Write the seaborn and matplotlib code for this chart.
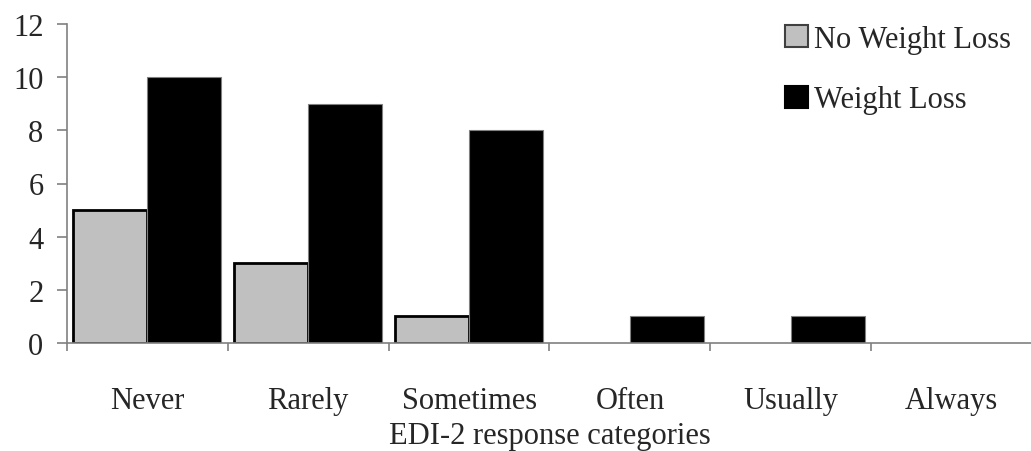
import matplotlib
matplotlib.use("Agg")
import matplotlib.pyplot as plt
import seaborn as sns
import pandas as pd
import numpy as np

categories = ["Never", "Rarely", "Sometimes", "Often", "Usually", "Always"]
no_weight_loss = [5, 3, 1, 0, 0, 0]
weight_loss = [10, 9, 8, 1, 1, 0]
series_names = ["No Weight Loss", "Weight Loss"]

df = pd.DataFrame({
    "category": categories * 2,
    "count": no_weight_loss + weight_loss,
    "group": [series_names[0]] * len(categories) + [series_names[1]] * len(categories),
})

sns.set_style("white")
plt.rcParams["font.family"] = ["Liberation Serif", "DejaVu Serif"]

FS = 22

fig = plt.figure(figsize=(10.31, 4.52), dpi=100)
ax = fig.add_axes([67 / 1031, 108 / 452, 965 / 1031, 319 / 452])

sns.barplot(data=df, x="category", y="count", hue="group", order=categories,
            hue_order=series_names, palette=["#C0C0C0", "#000000"],
            width=0.92, saturation=1, ax=ax, legend=True)

# outline styling: grey bars get a black rim, black bars a thin grey one;
# empty bars get no outline at all
n = len(categories)
for i, p in enumerate(ax.patches[:2 * n]):
    if i < n:
        p.set_edgecolor("black")
        p.set_linewidth(2.0)
    else:
        p.set_edgecolor("#808080")
        p.set_linewidth(0.8)
    if p.get_height() == 0:
        p.set_linewidth(0)

ax.set_xlim(-0.5, n - 0.5)
ax.set_ylim(0, 12)
ax.set_yticks(np.arange(0, 13, 2))

# category labels centred, tick marks on the boundaries
ax.set_xticks(np.arange(n))
ax.set_xticklabels(categories)
ax.set_xticks(np.arange(-0.5, n, 1.0), minor=True)
ax.tick_params(axis="x", which="major", bottom=True, length=0, pad=31, labelsize=FS)
ax.tick_params(axis="x", which="minor", bottom=True, length=6, width=1.2,
               color="#808080", direction="out")
ax.tick_params(axis="y", which="major", left=True, length=7, width=1.2,
               color="#808080", direction="out", pad=10, labelsize=FS)

for side in ["top", "right"]:
    ax.spines[side].set_visible(False)
for side in ["left", "bottom"]:
    ax.spines[side].set_color("#808080")
    ax.spines[side].set_linewidth(1.2)

ax.set_xlabel("EDI-2 response categories", fontsize=FS, labelpad=4)
ax.set_ylabel("")

handles, labels = ax.get_legend_handles_labels()
for h in handles:
    h.set_linewidth(1.5)
handles[0].set_edgecolor("#404040")
handles[1].set_edgecolor("black")
ax.legend(handles, labels, loc="upper left", bbox_to_anchor=(0.744, 0.997),
          frameon=False, fontsize=FS, labelspacing=1.03, handlelength=0.75,
          handleheight=0.75, handletextpad=0.2, borderaxespad=0, borderpad=0)

fig.savefig("out.png", dpi=100)
